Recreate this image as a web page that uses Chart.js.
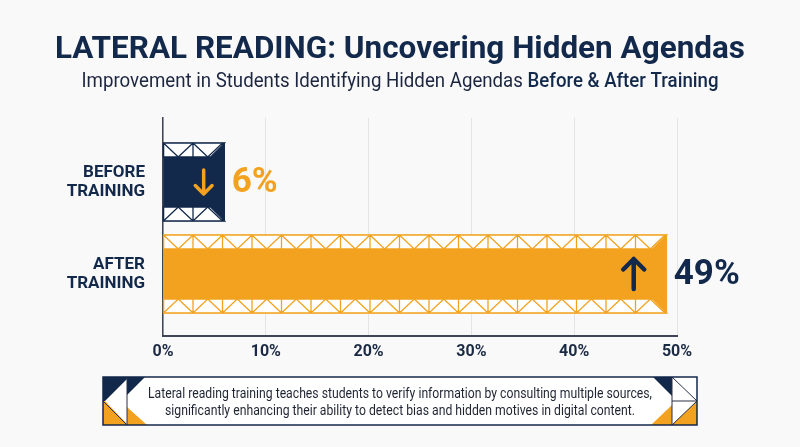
<!DOCTYPE html>
<html>
<head>
<meta charset="utf-8">
<script src="https://cdn.jsdelivr.net/npm/chart.js@4.4.1/dist/chart.umd.min.js"></script>
<style>
    html, body { margin: 0; padding: 0; background: #f9f9f9; }
    #wrap { width: 800px; height: 447px; }
</style>
</head>
<body>
<div id="wrap"><canvas id="barChart" width="800" height="447"></canvas></div>
<script>
const categories = ['BEFORE TRAINING', 'AFTER TRAINING'];
const values = [6, 49];
const valueLabels = ['6%', '49%'];
const xTicks = [0, 10, 20, 30, 40, 50];

const titleText = 'LATERAL READING: Uncovering Hidden Agendas';
const subtitleText = 'Improvement in Students Identifying Hidden Agendas ';
const subtitleBold = 'Before & After Training';
const noteLines = [
    'Lateral reading training teaches students to verify information by consulting multiple sources,',
    'significantly enhancing their ability to detect bias and hidden motives in digital content.'
];

const NAVY = '#13294b';
const ORANGE = '#f2a21e';
const barColors = [NAVY, ORANGE];
const labelColors = [ORANGE, NAVY];
const arrowDirs = ['down', 'up'];

function fitText(ctx, text, x, y, maxWidth) {
    const w = ctx.measureText(text).width;
    const s = Math.min(1.25, maxWidth / w);
    ctx.save();
    ctx.translate(x, y);
    ctx.scale(s, 1);
    ctx.fillText(text, 0, 0);
    ctx.restore();
}

// truss band on top / bottom of each bar
function drawBand(ctx, base, end, y0, h, color, isTop) {
    const cw = 29.5;
    ctx.save();
    ctx.beginPath();
    if (isTop) {
        ctx.moveTo(base, y0);
        ctx.lineTo(end, y0);
        ctx.lineTo(end - h, y0 + h);
        ctx.lineTo(base, y0 + h);
    } else {
        ctx.moveTo(base, y0);
        ctx.lineTo(end - h, y0);
        ctx.lineTo(end, y0 + h);
        ctx.lineTo(base, y0 + h);
    }
    ctx.closePath();
    ctx.fillStyle = '#ffffff';
    ctx.fill();
    ctx.strokeStyle = color;
    ctx.lineWidth = 1.3;
    ctx.stroke();
    ctx.clip();
    ctx.beginPath();
    for (let a = base; a < end; a += cw) {
        ctx.moveTo(a, y0);
        ctx.lineTo(a, y0 + h);
        if (isTop) {
            ctx.moveTo(a, y0);
            ctx.lineTo(a + cw / 2, y0 + h);
            ctx.lineTo(a + cw, y0);
        } else {
            ctx.moveTo(a, y0 + h);
            ctx.lineTo(a + cw / 2, y0);
            ctx.lineTo(a + cw, y0 + h);
        }
    }
    ctx.stroke();
    ctx.restore();
}

function drawArrow(ctx, x, y, dir, color, size, width) {
    const s = dir === 'up' ? -1 : 1;
    ctx.save();
    ctx.strokeStyle = color;
    ctx.lineWidth = width;
    ctx.lineCap = 'round';
    ctx.lineJoin = 'round';
    ctx.beginPath();
    ctx.moveTo(x, y - s * size);
    ctx.lineTo(x, y + s * size);
    ctx.moveTo(x - size * 0.7, y + s * size * 0.3);
    ctx.lineTo(x, y + s * size);
    ctx.lineTo(x + size * 0.7, y + s * size * 0.3);
    ctx.stroke();
    ctx.restore();
}

const decorPlugin = {
    id: 'decor',
    beforeDraw(chart) {
        const ctx = chart.ctx;
        ctx.save();
        ctx.fillStyle = '#f9f9f9';
        ctx.fillRect(0, 0, chart.width, chart.height);

        // titles
        ctx.fillStyle = NAVY;
        ctx.textAlign = 'center';
        ctx.textBaseline = 'middle';
        ctx.font = 'bold 31px Roboto';
        fitText(ctx, titleText, 400, 50, 690);

        ctx.font = '20px Roboto';
        const w1 = ctx.measureText(subtitleText).width;
        ctx.font = '500 20px Roboto';
        const w2 = ctx.measureText(subtitleBold).width;
        const s = 637 / (w1 + w2);
        ctx.save();
        ctx.translate(400 - 637 / 2, 82);
        ctx.scale(s, 1);
        ctx.textAlign = 'left';
        ctx.fillStyle = '#1d2640';
        ctx.font = '20px Roboto';
        ctx.fillText(subtitleText, 0, 0);
        ctx.font = '500 20px Roboto';
        ctx.fillStyle = NAVY;
        ctx.fillText(subtitleBold, w1, 0);
        ctx.restore();

        // note box
        const bx = 103, by = 377, bw = 594, bh = 48;
        ctx.fillStyle = '#ffffff';
        ctx.fillRect(bx, by, bw, bh);
        const mid = by + bh / 2;
        const lx = bx + 24, rx = bx + bw - 25;
        // left decoration
        ctx.fillStyle = NAVY;
        ctx.fillRect(bx, by, 24, bh / 2);
        ctx.fillStyle = ORANGE;
        ctx.fillRect(bx, mid, 24, bh / 2);
        ctx.fillStyle = '#ffffff';
        ctx.beginPath();
        ctx.moveTo(lx, by + 2); ctx.lineTo(lx, by + bh - 1); ctx.lineTo(bx + 2, mid);
        ctx.closePath(); ctx.fill();
        ctx.fillStyle = NAVY;
        ctx.beginPath();
        ctx.moveTo(lx, by); ctx.lineTo(lx + 18, by); ctx.lineTo(lx, by + 18);
        ctx.closePath(); ctx.fill();
        ctx.fillStyle = ORANGE;
        ctx.beginPath();
        ctx.moveTo(lx, by + 30); ctx.lineTo(lx, by + bh); ctx.lineTo(lx + 20, by + bh);
        ctx.closePath(); ctx.fill();
        // right decoration
        ctx.fillStyle = NAVY;
        ctx.beginPath();
        ctx.moveTo(rx - 19, by); ctx.lineTo(rx, by); ctx.lineTo(rx, by + 19);
        ctx.closePath(); ctx.fill();
        ctx.fillStyle = ORANGE;
        ctx.beginPath();
        ctx.moveTo(rx, by + 28); ctx.lineTo(rx, by + bh); ctx.lineTo(rx - 21, by + bh);
        ctx.closePath(); ctx.fill();
        ctx.beginPath();
        ctx.moveTo(bx + bw, mid); ctx.lineTo(bx + bw, by + bh); ctx.lineTo(rx, by + bh);
        ctx.closePath(); ctx.fill();

        ctx.strokeStyle = '#2a3146';
        ctx.lineWidth = 1;
        ctx.beginPath();
        ctx.moveTo(lx, by); ctx.lineTo(lx, by + bh);
        ctx.moveTo(bx, mid); ctx.lineTo(lx, by + bh);
        ctx.moveTo(rx, by); ctx.lineTo(rx, by + bh);
        ctx.moveTo(rx, mid); ctx.lineTo(bx + bw, mid);
        ctx.moveTo(rx, by); ctx.lineTo(bx + bw, mid);
        ctx.lineTo(rx, by + bh);
        ctx.stroke();
        ctx.lineWidth = 1.5;
        ctx.strokeStyle = NAVY;
        ctx.strokeRect(bx, by, bw, bh);

        ctx.fillStyle = '#1f2433';
        ctx.font = '14px Roboto';
        ctx.textAlign = 'center';
        fitText(ctx, noteLines[0], 400, 394, 504);
        fitText(ctx, noteLines[1], 400, 411, 470);
        ctx.restore();
    },
    afterDatasetsDraw(chart) {
        const ctx = chart.ctx;
        const meta = chart.getDatasetMeta(0);
        meta.data.forEach((bar, i) => {
            const p = bar.getProps(['x', 'y', 'base', 'height'], true);
            const top = p.y - p.height / 2;
            const bot = p.y + p.height / 2;
            const bandH = 14;
            drawBand(ctx, p.base, p.x, top, bandH, barColors[i], true);
            drawBand(ctx, p.base, p.x, bot - bandH, bandH, barColors[i], false);

            if (arrowDirs[i] === 'down') {
                drawArrow(ctx, p.x - 21, p.y, 'down', ORANGE, 12, 3.5);
            } else {
                drawArrow(ctx, p.x - 33, p.y, 'up', NAVY, 15, 4.5);
            }

            ctx.save();
            ctx.fillStyle = labelColors[i];
            ctx.font = 'bold 35px Roboto';
            ctx.textAlign = 'left';
            ctx.textBaseline = 'middle';
            ctx.fillText(valueLabels[i], p.x + 7, p.y + 1);
            ctx.restore();
        });
    }
};

const barChartCanvas = document.getElementById('barChart');

const chartData = {
    datasets: [{
        data: values.map((v, i) => ({ x: v, y: i })),
        backgroundColor: barColors,
        borderWidth: 0,
        barThickness: 78
    }]
};

new Chart(barChartCanvas, {
    type: 'bar',
    data: chartData,
    plugins: [decorPlugin],
    options: {
        indexAxis: 'y',
        responsive: false,
        animation: false,
        devicePixelRatio: 1,
        layout: {
            padding: { left: 0, right: 123, top: 118, bottom: 81 }
        },
        plugins: {
            legend: { display: false },
            tooltip: { enabled: false }
        },
        scales: {
            x: {
                type: 'linear',
                min: xTicks[0],
                max: xTicks[xTicks.length - 1],
                afterFit: function (scale) { scale.height = 30; },
                afterBuildTicks: function (scale) {
                    scale.ticks = xTicks.map(v => ({ value: v }));
                },
                grid: { color: '#e4e4e4', lineWidth: 1, drawTicks: false },
                border: { display: true, color: '#3f4556', width: 2 },
                ticks: {
                    padding: 6,
                    color: '#1b2a44',
                    font: { family: 'Roboto', size: 16, weight: 'bold' },
                    callback: v => v + '%'
                }
            },
            y: {
                type: 'linear',
                reverse: true,
                bounds: 'data',
                offset: false,
                grace: 0,
                min: -0.6957,
                max: 1.674,
                afterFit: function (scale) { scale.width = 163; },
                afterDataLimits: function (scale) {
                    scale.min = -0.6957;
                    scale.max = 1.674;
                },
                afterBuildTicks: function (scale) {
                    scale.ticks = categories.map((c, i) => ({ value: i }));
                },
                grid: { display: false, drawTicks: false },
                border: { display: true, color: '#3f4556', width: 1.5 },
                ticks: {
                    padding: 18,
                    color: NAVY,
                    font: { family: 'Roboto', size: 17, weight: 'bold', lineHeight: 1.1 },
                    callback: function (v) {
                        const c = categories[v];
                        return c ? c.split(' ') : '';
                    }
                }
            }
        }
    }
});
</script>
</body>
</html>
